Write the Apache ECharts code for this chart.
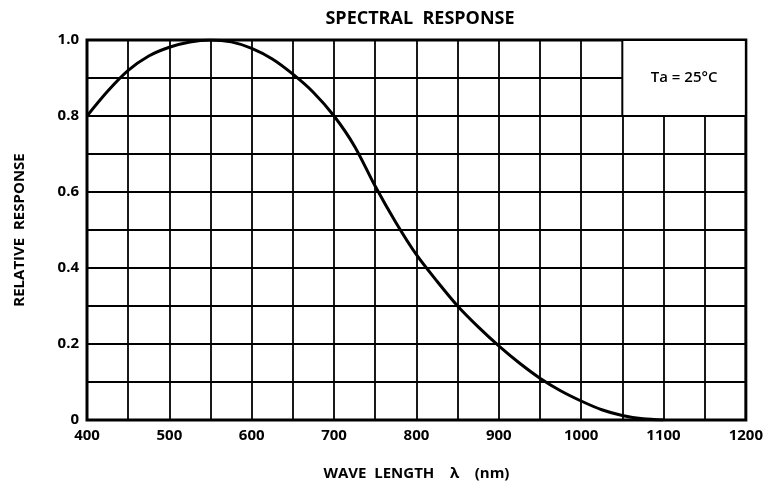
<!DOCTYPE html>
<html>
<head>
<meta charset="utf-8">
<script src="https://cdn.jsdelivr.net/npm/echarts@6/dist/echarts.min.js"></script>
<style>html,body{margin:0;padding:0;background:#fff}#c{width:766px;height:489px}</style>
</head>
<body>
<div id="c"></div>
<script>
var wavelengths = [400,425,450,475,500,525,550,575,600,625,650,675,700,725,750,775,800,825,850,875,900,925,950,975,1000,1025,1050,1075,1100];
var response = [0.80,0.865,0.92,0.958,0.981,0.995,1.0,0.995,0.978,0.95,0.91,0.862,0.80,0.72,0.615,0.52,0.435,0.365,0.30,0.245,0.195,0.15,0.11,0.077,0.05,0.027,0.012,0.003,0];
var xTickLabels = ['400','500','600','700','800','900','1000','1100','1200'];
var yTickLabels = ['0','0.2','0.4','0.6','0.8','1.0'];
var titleText = 'SPECTRAL  RESPONSE';
var xName = 'WAVE  LENGTH    λ    (nm)';
var yName = 'RELATIVE  RESPONSE';
var noteText = 'Ta = 25°C';
var noteBox = [[1050, 1.0], [1200, 0.8]];

var font = 'Open Sans';
var chart = echarts.init(document.getElementById('c'));
chart.setOption({
  animation: false,
  backgroundColor: '#fff',
  title: {
    text: titleText, left: 415, top: 5, textAlign: 'center',
    textStyle: {fontFamily: font, fontSize: 18, fontWeight: 700, color: '#000'}
  },
  grid: {
    left: 87, right: 20, top: 40, bottom: 69,
    show: true, borderColor: '#000', borderWidth: 3, backgroundColor: 'transparent'
  },
  xAxis: {
    type: 'value', min: 400, max: 1200, interval: 50,
    name: xName, nameLocation: 'middle', nameGap: 46,
    nameTextStyle: {fontFamily: font, fontSize: 15, fontWeight: 700, color: '#000'},
    axisLine: {show: false}, axisTick: {show: false},
    axisLabel: {
      margin: 8, fontFamily: font, fontSize: 15, fontWeight: 700, color: '#000',
      formatter: function (v) {
        var i = Math.round((v - 400) / 100);
        return (Math.abs(v - 400 - i * 100) < 1e-6) ? xTickLabels[i] : '';
      }
    },
    splitLine: {show: true, lineStyle: {color: '#000', width: 1.8}}
  },
  yAxis: {
    type: 'value', min: 0, max: 1, interval: 0.1,
    name: yName, nameLocation: 'middle', nameGap: 60, nameRotate: 90,
    nameTextStyle: {fontFamily: font, fontSize: 15, fontWeight: 700, color: '#000'},
    axisLine: {show: false}, axisTick: {show: false},
    axisLabel: {
      margin: 8, fontFamily: font, fontSize: 15, fontWeight: 700, color: '#000',
      formatter: function (v) {
        var k = Math.round(v * 10);
        return (k % 2 === 0) ? yTickLabels[k / 2] : '';
      }
    },
    splitLine: {show: true, lineStyle: {color: '#000', width: 1.8}}
  },
  series: [{
    type: 'line',
    data: wavelengths.map(function (w, i) { return [w, response[i]]; }),
    smooth: 0.3,
    symbol: 'none',
    lineStyle: {color: '#000', width: 3},
    markArea: {
      silent: true,
      itemStyle: {color: '#fff', borderColor: '#000', borderWidth: 2, opacity: 1},
      label: {
        show: true, position: 'inside', color: '#000',
        fontFamily: font, fontSize: 15, fontWeight: 600
      },
      data: [[{name: noteText, coord: noteBox[0]}, {coord: noteBox[1]}]]
    }
  }]
});
</script>
</body>
</html>
